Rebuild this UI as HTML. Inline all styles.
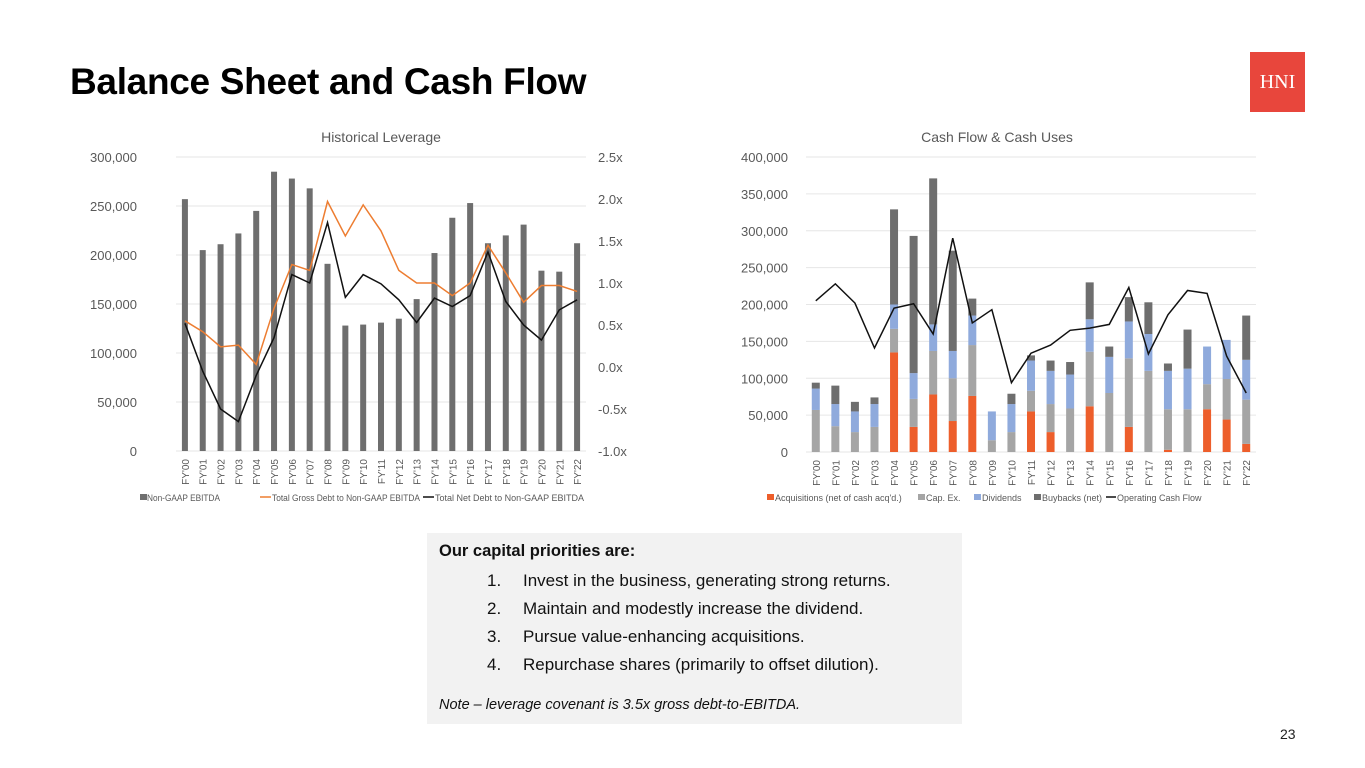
<!DOCTYPE html>
<html><head><meta charset="utf-8"><style>
body{margin:0;width:1365px;height:768px;background:#fff;overflow:hidden;position:relative;font-family:"Liberation Sans",sans-serif}
#title{position:absolute;left:70px;top:61px;font-size:37px;font-weight:bold;color:#000;letter-spacing:-0.3px;white-space:nowrap}
#logo{position:absolute;left:1250px;top:52px;width:55px;height:60px;background:#e8463c;color:#fff;font-family:"Liberation Serif",serif;font-size:20px;line-height:60px;text-align:center}
#box{position:absolute;left:427px;top:533px;width:535px;height:191px;background:#f2f2f2;color:#111;font-size:16.5px}
#box .h{position:absolute;left:12px;top:9px;font-weight:bold}
#box ol{position:absolute;left:0;top:34px;margin:0;padding:0;list-style:none}
#box li{position:relative;height:28px;line-height:28px;padding-left:96px;white-space:nowrap;font-size:17px}
#box li span{position:absolute;left:60px}
#box .n{position:absolute;left:12px;top:164px;font-style:italic;font-size:14.5px}
#pg{position:absolute;left:1280px;top:726px;font-size:14px;color:#222}
svg{position:absolute;left:0;top:0}
</style></head><body>
<div id="title">Balance Sheet and Cash Flow</div>
<div id="logo">HNI</div>
<svg id="chart" width="1365" height="768"></svg>
<div id="box">
<div class="h">Our capital priorities are:</div>
<ol>
<li><span>1.</span>Invest in the business, generating strong returns.</li>
<li><span>2.</span>Maintain and modestly increase the dividend.</li>
<li><span>3.</span>Pursue value-enhancing acquisitions.</li>
<li><span>4.</span>Repurchase shares (primarily to offset dilution).</li>
</ol>
<div class="n">Note – leverage covenant is 3.5x gross debt-to-EBITDA.</div>
</div>
<div id="pg">23</div>
<script>
const years=["FY'00","FY'01","FY'02","FY'03","FY'04","FY'05","FY'06","FY'07","FY'08","FY'09","FY'10","FY'11","FY'12","FY'13","FY'14","FY'15","FY'16","FY'17","FY'18","FY'19","FY'20","FY'21","FY'22"];
const ebitda=[257,205,211,222,245,285,278,268,191,128,129,131,135,155,202,238,253,212,220,231,184,183,212];
const grossLev=[0.55,0.42,0.24,0.26,0.03,0.70,1.22,1.15,1.97,1.56,1.93,1.62,1.15,1.0,1.0,0.85,1.0,1.45,1.12,0.77,0.97,0.97,0.9];
const netLev=[0.52,-0.05,-0.5,-0.65,-0.1,0.35,1.1,1.0,1.72,0.83,1.1,0.99,0.8,0.53,0.82,0.72,0.85,1.37,0.78,0.5,0.32,0.68,0.8];
const leftTicks=[0,50000,100000,150000,200000,250000,300000];
const rightTicks=[-1.0,-0.5,0.0,0.5,1.0,1.5,2.0,2.5];
const acq=[0,0,0,0,135,34,78,42,76,0,0,55,27,0,62,0,34,0,3,0,58,44,11];
const capex=[57,35,27,34,32,38,59,58,69,16,27,28,38,59,74,80,93,110,55,58,34,55,60];
const divs=[29,30,28,31,33,35,36,37,40,39,38,41,45,46,44,49,50,50,52,55,51,53,54];
const buys=[8,25,13,9,129,186,198,136,23,0,14,7,14,17,50,14,33,43,10,53,0,0,60];
const ocf=[205,228,202,141,195,201,160,290,175,193,94,134,145,165,168,173,223,133,186,219,215,130,80];
const cfTicks=[0,50000,100000,150000,200000,250000,300000,350000,400000];

const svg=document.getElementById('chart');const NS='http://www.w3.org/2000/svg';
function mk(t,a,txt){const e=document.createElementNS(NS,t);for(const k in a)e.setAttribute(k,a[k]);if(txt!==undefined)e.textContent=txt;svg.appendChild(e);return e;}
const fmt=v=>v.toLocaleString('en-US');
const fmtx=v=>v.toFixed(1)+'x';

// Left chart
const L={x0:176,x1:586,y0:451,y1:157};
const ly=v=>L.y0-(v/300000)*(L.y0-L.y1);
const ry=v=>L.y0-((v+1)/3.5)*(L.y0-L.y1);
const lstep=(L.x1-L.x0)/years.length;
const lx=i=>L.x0+lstep*(i+0.5);
let t=mk('text',{x:381,y:142,'font-size':14,fill:'#595959','text-anchor':'middle'},'Historical Leverage');

leftTicks.forEach(v=>{let g=mk('line',{x1:L.x0,x2:L.x1,y1:ly(v),y2:ly(v),stroke:'#e6e6e6'});
 let e=mk('text',{x:137,y:ly(v)+5,'font-size':13,fill:'#595959','text-anchor':'end'},fmt(v));});
rightTicks.forEach(v=>{let e=mk('text',{x:598,y:ry(v)+5,'font-size':13,fill:'#595959'},fmtx(v));});
ebitda.forEach((v,i)=>{let b=mk('rect',{x:lx(i)-3,y:ly(v*1000),width:6,height:L.y0-ly(v*1000),fill:'#6e6e6e'});});
function line(arr,fx,fy,col,name){let p=mk('polyline',{points:arr.map((v,i)=>fx(i)+','+fy(v)).join(' '),fill:'none',stroke:col,'stroke-width':1.5});}
line(grossLev,lx,ry,'#ed7d31','gross-debt-line');
line(netLev,lx,ry,'#111','net-debt-line');
years.forEach((y,i)=>{let e=mk('text',{transform:`translate(${lx(i)+4},${L.y0+8}) rotate(-90)`,'font-size':10,fill:'#595959','text-anchor':'end'},y);});
// left legend
[['rect',140,'#6e6e6e','Non-GAAP EBITDA',73],['line',272,'#ed7d31','Total Gross Debt to Non-GAAP EBITDA',148],['line',435,'#111','Total Net Debt to Non-GAAP EBITDA',149]].forEach(d=>{
 if(d[0]=='rect')mk('rect',{x:d[1],y:494,width:7,height:6,fill:d[2]});else mk('line',{x1:d[1]-12,x2:d[1]-1,y1:497,y2:497,stroke:d[2],'stroke-width':1.5});
 let e=mk('text',{x:d[1]+(d[0]=='rect'?7:0),y:501,'font-size':9,fill:'#595959',textLength:d[4],lengthAdjust:'spacingAndGlyphs'},d[3]);});

// Right chart
const R={x0:806,x1:1256,y0:452,y1:157};
const cy=v=>R.y0-(v/400000)*(R.y0-R.y1);
const rstep=(R.x1-R.x0)/years.length;
const cx=i=>R.x0+rstep*(i+0.5);
t=mk('text',{x:997,y:142,'font-size':14,fill:'#595959','text-anchor':'middle'},'Cash Flow & Cash Uses');

cfTicks.forEach(v=>{let g=mk('line',{x1:R.x0,x2:R.x1,y1:cy(v),y2:cy(v),stroke:'#e6e6e6'});
 let e=mk('text',{x:788,y:cy(v)+5,'font-size':13,fill:'#595959','text-anchor':'end'},fmt(v));});
const series=[[acq,'#ed5e2b','acquisitions-bar'],[capex,'#a5a5a5','capex-bar'],[divs,'#8faadc','dividends-bar'],[buys,'#6e6e6e','buybacks-bar']];
years.forEach((y,i)=>{let base=0;series.forEach(s=>{const v=s[0][i];if(v>0){let b=mk('rect',{x:cx(i)-4,y:cy((base+v)*1000),width:8,height:cy(base*1000)-cy((base+v)*1000),fill:s[1]});}base+=v;});});
line(ocf.map(v=>v*1000),cx,cy,'#111','operating-cash-flow-line');
years.forEach((y,i)=>{let e=mk('text',{transform:`translate(${cx(i)+4},${R.y0+8}) rotate(-90)`,'font-size':10,fill:'#595959','text-anchor':'end'},y);});
[['rect',767,'#ed5e2b','Acquisitions (net of cash acq\'d.)'],['rect',918,'#a5a5a5','Cap. Ex.'],['rect',974,'#8faadc','Dividends'],['rect',1034,'#6e6e6e','Buybacks (net)'],['line',1117,'#111','Operating Cash Flow']].forEach(d=>{
 if(d[0]=='rect')mk('rect',{x:d[1],y:494,width:7,height:6,fill:d[2]});else mk('line',{x1:d[1]-11,x2:d[1]-1,y1:497,y2:497,stroke:d[2],'stroke-width':1.5});
 let e=mk('text',{x:d[1]+(d[0]=='rect'?8:0),y:501,'font-size':9,fill:'#595959'},d[3]);});
</script>
</body></html>
